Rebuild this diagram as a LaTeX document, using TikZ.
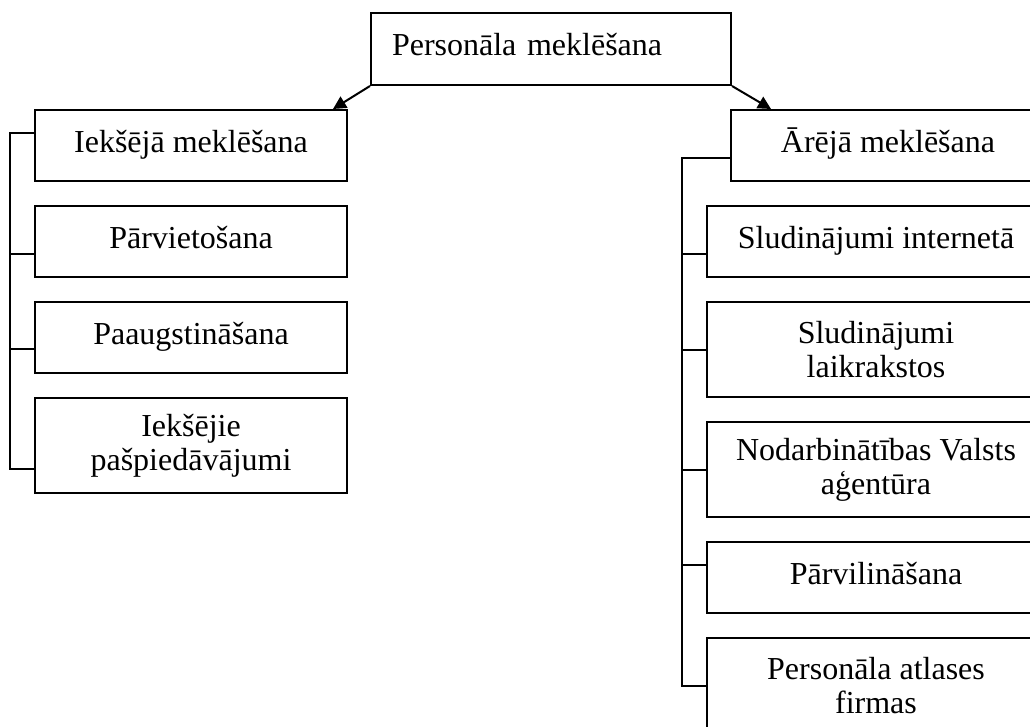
\documentclass[tikz,border=0pt]{standalone}
\usepackage{fontspec}
\setmainfont{Liberation Serif}
\usetikzlibrary{arrows.meta,positioning,calc}
\tikzset{
  listbox/.style={
    draw,
    line width=2pt,
    inner sep=0pt,
    minimum height=71pt,
    align=center,
    font=\fontsize{32}{34}\selectfont
  },
  onerow/.style={text height=23pt, text depth=9pt},
  tworow/.style={minimum height=95pt},
  leftbox/.style={listbox, minimum width=312pt},
  rightbox/.style={listbox, minimum width=338pt},
  headbox/.style={
    listbox, onerow,
    minimum width=360pt,
    minimum height=72pt,
    text width=318pt,
    align=left
  },
  link/.style={line width=2pt, line cap=rect},
  arrow/.style={
    -{Triangle[length=13pt,width=13pt]},
    line width=2pt
  }
}

\begin{document}
\begin{tikzpicture}[x=1pt, y=-1pt, node distance=23pt]
\useasboundingbox (0,0) rectangle (1030,727);
\clip (0,0) rectangle (1030,727);
\node[headbox] (head) at (551,49) {Personāla meklēšana};
% iekšējā meklēšana
\node[leftbox, onerow] (in1) at (191,145.5) {Iekšējā meklēšana};
\node[leftbox, onerow, below=of in1] (in2) {Pārvietošana};
\node[leftbox, onerow, below=of in2] (in3) {Paaugstināšana};
\node[leftbox, tworow, below=of in3] (in4) {Iekšējie\\pašpiedāvājumi};
% ārējā meklēšana
\node[rightbox, onerow, minimum width=314pt] (ex0) at (888,145.5) {Ārējā meklēšana};
\node[rightbox, onerow, below left=23pt and 0pt of ex0.south east] (ex1) {Sludinājumi internetā};
\node[rightbox, tworow, below=of ex1] (ex2) {Sludinājumi\\laikrakstos};
\node[rightbox, tworow, below=of ex2] (ex3) {Nodarbinātības Valsts\\aģentūra};
\node[rightbox, onerow, below=of ex3] (ex4) {Pārvilināšana};
\node[rightbox, tworow, below=of ex4] (ex5) {Personāla atlases\\firmas};
\draw[arrow] (head.south west) -- ($(in1.north east)+(-15,0)$);
\draw[arrow] (head.south east) -- ($(ex0.north west)+(41,0)$);
% brackets
\draw[link] ($(in1.west)+(-24,-12.5)$) -- ($(in4.west)+(-24,23)$);
\foreach \b/\d in {in1/-12.5,in2/12.5,in3/11.5,in4/23}
  \draw[link] ($(\b.west)+(0,\d)$) -- ++(-24,0);
\draw[link] ($(ex0.west)+(-48,12.5)$) -- ($(ex5.west)+(-24,0)$);
\draw[link] ($(ex0.west)+(0,12.5)$) -- ++(-48,0);
\foreach \b/\d in {ex1/12.5,ex2/0,ex3/0,ex4/-12.5,ex5/0}
  \draw[link] ($(\b.west)+(0,\d)$) -- ++(-24,0);
\end{tikzpicture}
\end{document}
